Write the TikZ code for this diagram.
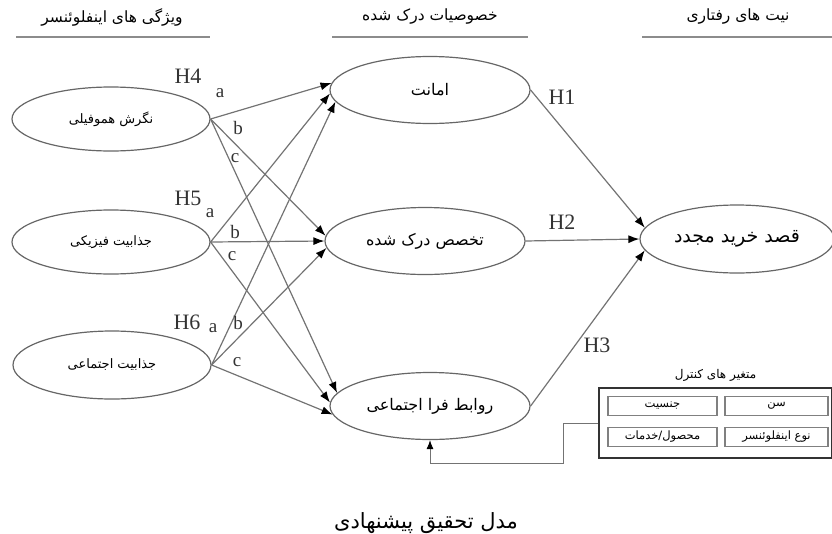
\documentclass[tikz,border=0pt]{standalone}
\usepackage{fontspec}
\setmainfont{Liberation Serif}
\newfontfamily\fafont[Script=Arabic]{DejaVu Sans}
\TeXXeTstate=1
\newcommand{\fatxt}[1]{{\fafont\beginR #1\endR}}
\usetikzlibrary{arrows.meta,positioning,shapes.geometric}

\begin{document}
\begin{tikzpicture}[
    x=1pt, y=-1pt,
    factor/.style={ellipse, draw=black!60, line width=1.2pt, inner sep=0pt, minimum width=198pt, minimum height=64pt, font=\fontsize{13}{15}\selectfont},
    trait/.style={ellipse, draw=black!60, line width=1.2pt, inner sep=0pt, minimum width=200pt, minimum height=67pt, font=\fontsize{16}{18}\selectfont},
    intent/.style={ellipse, draw=black!60, line width=1.2pt, inner sep=0pt, minimum width=194pt, minimum height=68pt, font=\fontsize{19}{21}\selectfont},
    header/.style={font=\fontsize{15.5}{17}\selectfont, inner sep=1pt},
    rule/.style={draw=black!45, line width=1.6pt},
    hyp/.style={font=\fontsize{22}{24}\selectfont, text=black!80, inner sep=0pt},
    sub/.style={font=\fontsize{19}{21}\selectfont, text=black!80, inner sep=0pt},
    edge/.style={draw=black!55, line width=1.2pt, -{Latex[length=11pt,width=8pt,color=black]}},
    ctrlbox/.style={draw=black!80, line width=1.8pt, minimum width=233pt, minimum height=70pt},
    ctrlitem/.style={draw=black!50, line width=1.1pt, minimum height=19pt, inner sep=0pt, font=\fontsize{11.5}{13}\selectfont},
    feed/.style={draw=black!55, line width=0.9pt, -{Latex[length=9pt,width=7pt,color=black]}}
]
\useasboundingbox (0,0) rectangle (832,533);

% headers
\node[header] (hL) at (112,17) {\fatxt{ویژگی های اینفلوئنسر}};
\node[header] (hM) at (430,17) {\fatxt{خصوصیات درک شده}};
\node[header] (hR) at (738,17) {\fatxt{نیت های رفتاری}};
\draw[rule] (16,37) -- (210,37);
\draw[rule] (332,37) -- (528,37);
\draw[rule] (642,37) -- (832,37);

% influencer traits
\node[factor] (E1) at (111,119) {\fatxt{نگرش هموفیلی}};
\node[factor] (E2) at (111,242) {\fatxt{جذابیت فیزیکی}};
\node[factor, minimum height=68pt] (E3) at (112,365) {\fatxt{جذابیت اجتماعی}};

% perceived qualities
\node[trait] (M1) at (430,90) {\fatxt{امانت}};
\node[trait] (M2) at (425,241) {\fatxt{تخصص درک شده}};
\node[trait] (M3) at (430,406) {\fatxt{روابط فرا اجتماعی}};

% behavioural intention
\node[intent] (R) at (737,239) {\fatxt{قصد خرید مجدد}};

\draw[edge] (E1.east) -- (M1.176);
\draw[edge] (E1.east) -- (M2.177);
\draw[edge] (E1.east) -- (M3.172);
\draw[edge] (E2.east) -- (M1.182);
\draw[edge] (E2.east) -- (M2.180);
\draw[edge] (E2.east) -- (M3.178);
\draw[edge] (E3.east) -- (M1.187);
\draw[edge] (E3.east) -- (M2.184);
\draw[edge] (E3.east) -- (M3.185);

\draw[edge] (M1.east) -- (R.173);
\draw[edge] (M2.east) -- (R.180);
\draw[edge] (M3.east) -- (R.187);

\node[hyp] (H4) at (188,76) {H4};
\node[sub] (a4) at (220,93) {a};
\node[sub] (b4) at (238,128) {b};
\node[sub] (c4) at (235,158) {c};
\node[hyp] (H5) at (188,198) {H5};
\node[sub] (a5) at (210,213) {a};
\node[sub] (b5) at (235,232) {b};
\node[sub] (c5) at (232,256) {c};
\node[hyp] (H6) at (187,322) {H6};
\node[sub] (a6) at (213,328) {a};
\node[sub] (b6) at (238,323) {b};
\node[sub] (c6) at (237,362) {c};
\node[hyp] (H1) at (562,97) {H1};
\node[hyp] (H2) at (562,222) {H2};
\node[hyp] (H3) at (597,345) {H3};

% control variables
\node[ctrlbox] (ctrl) at (715.5,423) {};
\node[ctrlitem, minimum width=109pt] (gen) at (662.5,406) {\fatxt{جنسیت}};
\node[ctrlitem, minimum width=103pt] (age) at (776.5,406) {\fatxt{سن}};
\node[ctrlitem, minimum width=109pt] (prod) at (662.5,437) {\fatxt{محصول/خدمات}};
\node[ctrlitem, minimum width=103pt] (kind) at (776.5,437) {\fatxt{نوع اینفلوئنسر}};
\node[font=\fontsize{12}{14}\selectfont, above=2pt of ctrl] (ctitle) {\fatxt{متغیر های کنترل}};

\coordinate (elbow) at (563,463);
\draw[feed] (ctrl.west) -| (elbow) -| (M3.south);

\node[font=\fontsize{21}{23}\selectfont] (cap) at (426,523) {\fatxt{مدل تحقیق پیشنهادی}};
\end{tikzpicture}
\end{document}
